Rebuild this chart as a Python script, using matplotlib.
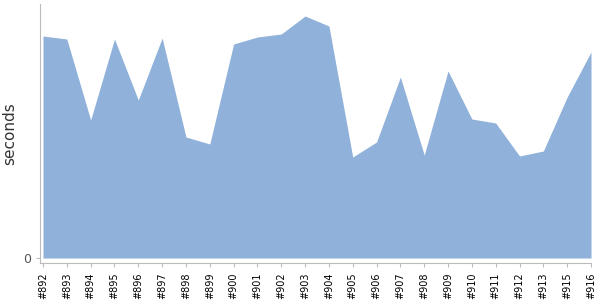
import numpy as np
import matplotlib.pyplot as plt

builds = ['#892', '#893', '#894', '#895', '#896', '#897', '#898', '#899',
          '#900', '#901', '#902', '#903', '#904', '#905', '#906', '#907',
          '#908', '#909', '#910', '#911', '#912', '#913', '#915', '#916']
seconds = [222, 219, 138, 219, 158, 220, 121, 114,
           214, 221, 224, 242, 232, 101, 116, 181,
           103, 187, 139, 135, 102, 107, 161, 206]

x = np.arange(len(builds))

fig = plt.figure(figsize=(6, 3), dpi=100)
ax = fig.add_axes([40/600, 37/300, 551/600, 259/300])

ax.fill_between(x, 0, seconds, color='#8fb1da', linewidth=0)

ax.set_xlim(-0.126, len(builds) - 1)
ax.set_ylim(-5, 254)
ax.set_xticks(x)
ax.set_xticklabels(builds, rotation=90, fontsize=7)
ax.set_yticks([0])
ax.set_yticklabels(['0'], fontsize=9)
ax.set_ylabel('seconds', fontsize=11, color='#333333')
ax.yaxis.set_label_coords(-0.041, 0.5)

for s in ['top', 'right']:
    ax.spines[s].set_visible(False)
for s in ['left', 'bottom']:
    ax.spines[s].set_color('#bbbbbb')
ax.tick_params(axis='both', color='#bbbbbb', length=3)
ax.tick_params(axis='x', labelcolor='black')
ax.tick_params(axis='y', labelcolor='#555555')

fig.savefig('out.png', dpi=100)
